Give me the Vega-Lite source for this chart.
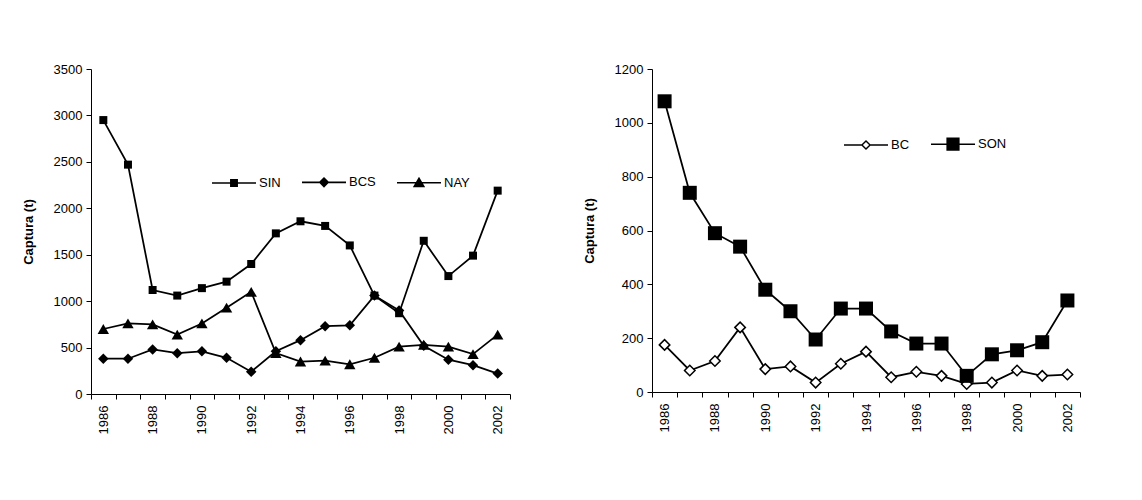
{
  "$schema": "https://vega.github.io/schema/vega-lite/v6.json",
  "background": "white",
  "padding": {"left": 22, "top": 63, "right": 0, "bottom": 0},
  "autosize": {"type": "pad"},
  "spacing": 72,
  "resolve": {"scale": {"shape": "independent", "x": "independent", "y": "independent"}, "legend": {"shape": "independent"}},
  "config": {
    "view": {"stroke": null},
    "font": "Liberation Sans",
    "axis": {
      "domainColor": "black", "tickColor": "black", "labelColor": "black", "titleColor": "black",
      "labelFont": "Liberation Sans", "titleFont": "Liberation Sans",
      "labelFontSize": 13, "titleFontSize": 13, "titleFontWeight": "bold",
      "grid": false, "tickSize": 5, "domainWidth": 1, "tickWidth": 1
    },
    "legend": {
      "labelFont": "Liberation Sans", "labelFontSize": 13, "labelColor": "black",
      "symbolSize": 1936, "symbolFillColor": "black",
      "columnPadding": 18, "labelOffset": 2
    }
  },
  "datasets": {
    "left": [
      {"year": 1986, "serie": "SIN", "captura": 2950},
      {"year": 1987, "serie": "SIN", "captura": 2470},
      {"year": 1988, "serie": "SIN", "captura": 1120},
      {"year": 1989, "serie": "SIN", "captura": 1060},
      {"year": 1990, "serie": "SIN", "captura": 1140},
      {"year": 1991, "serie": "SIN", "captura": 1210},
      {"year": 1992, "serie": "SIN", "captura": 1400},
      {"year": 1993, "serie": "SIN", "captura": 1730},
      {"year": 1994, "serie": "SIN", "captura": 1860},
      {"year": 1995, "serie": "SIN", "captura": 1810},
      {"year": 1996, "serie": "SIN", "captura": 1600},
      {"year": 1997, "serie": "SIN", "captura": 1060},
      {"year": 1998, "serie": "SIN", "captura": 870},
      {"year": 1999, "serie": "SIN", "captura": 1650},
      {"year": 2000, "serie": "SIN", "captura": 1270},
      {"year": 2001, "serie": "SIN", "captura": 1490},
      {"year": 2002, "serie": "SIN", "captura": 2190},
      {"year": 1986, "serie": "BCS", "captura": 380},
      {"year": 1987, "serie": "BCS", "captura": 380},
      {"year": 1988, "serie": "BCS", "captura": 480},
      {"year": 1989, "serie": "BCS", "captura": 440},
      {"year": 1990, "serie": "BCS", "captura": 460},
      {"year": 1991, "serie": "BCS", "captura": 390},
      {"year": 1992, "serie": "BCS", "captura": 240},
      {"year": 1993, "serie": "BCS", "captura": 460},
      {"year": 1994, "serie": "BCS", "captura": 580},
      {"year": 1995, "serie": "BCS", "captura": 730},
      {"year": 1996, "serie": "BCS", "captura": 740},
      {"year": 1997, "serie": "BCS", "captura": 1060},
      {"year": 1998, "serie": "BCS", "captura": 900},
      {"year": 1999, "serie": "BCS", "captura": 520},
      {"year": 2000, "serie": "BCS", "captura": 370},
      {"year": 2001, "serie": "BCS", "captura": 310},
      {"year": 2002, "serie": "BCS", "captura": 220},
      {"year": 1986, "serie": "NAY", "captura": 700},
      {"year": 1987, "serie": "NAY", "captura": 760},
      {"year": 1988, "serie": "NAY", "captura": 750},
      {"year": 1989, "serie": "NAY", "captura": 640},
      {"year": 1990, "serie": "NAY", "captura": 760},
      {"year": 1991, "serie": "NAY", "captura": 930},
      {"year": 1992, "serie": "NAY", "captura": 1100},
      {"year": 1993, "serie": "NAY", "captura": 440},
      {"year": 1994, "serie": "NAY", "captura": 350},
      {"year": 1995, "serie": "NAY", "captura": 360},
      {"year": 1996, "serie": "NAY", "captura": 320},
      {"year": 1997, "serie": "NAY", "captura": 390},
      {"year": 1998, "serie": "NAY", "captura": 510},
      {"year": 1999, "serie": "NAY", "captura": 530},
      {"year": 2000, "serie": "NAY", "captura": 510},
      {"year": 2001, "serie": "NAY", "captura": 430},
      {"year": 2002, "serie": "NAY", "captura": 640}
    ],
    "right": [
      {"year": 1986, "serie": "BC", "captura": 175},
      {"year": 1987, "serie": "BC", "captura": 80},
      {"year": 1988, "serie": "BC", "captura": 115},
      {"year": 1989, "serie": "BC", "captura": 240},
      {"year": 1990, "serie": "BC", "captura": 85},
      {"year": 1991, "serie": "BC", "captura": 95},
      {"year": 1992, "serie": "BC", "captura": 35},
      {"year": 1993, "serie": "BC", "captura": 105},
      {"year": 1994, "serie": "BC", "captura": 150},
      {"year": 1995, "serie": "BC", "captura": 55},
      {"year": 1996, "serie": "BC", "captura": 75},
      {"year": 1997, "serie": "BC", "captura": 60},
      {"year": 1998, "serie": "BC", "captura": 30},
      {"year": 1999, "serie": "BC", "captura": 35},
      {"year": 2000, "serie": "BC", "captura": 80},
      {"year": 2001, "serie": "BC", "captura": 60},
      {"year": 2002, "serie": "BC", "captura": 65},
      {"year": 1986, "serie": "SON", "captura": 1080},
      {"year": 1987, "serie": "SON", "captura": 740},
      {"year": 1988, "serie": "SON", "captura": 590},
      {"year": 1989, "serie": "SON", "captura": 540},
      {"year": 1990, "serie": "SON", "captura": 380},
      {"year": 1991, "serie": "SON", "captura": 300},
      {"year": 1992, "serie": "SON", "captura": 195},
      {"year": 1993, "serie": "SON", "captura": 310},
      {"year": 1994, "serie": "SON", "captura": 310},
      {"year": 1995, "serie": "SON", "captura": 225},
      {"year": 1996, "serie": "SON", "captura": 180},
      {"year": 1997, "serie": "SON", "captura": 180},
      {"year": 1998, "serie": "SON", "captura": 60},
      {"year": 1999, "serie": "SON", "captura": 140},
      {"year": 2000, "serie": "SON", "captura": 155},
      {"year": 2001, "serie": "SON", "captura": 185},
      {"year": 2002, "serie": "SON", "captura": 340}
    ]
  },
  "hconcat": [
    {
      "width": 419,
      "height": 325,
      "data": {"name": "left"},
      "encoding": {
        "x": {"field": "year", "type": "ordinal", "scale": {"type": "band", "paddingInner": 0, "paddingOuter": 0},
          "axis": {"title": null, "labelAngle": 270, "tickBand": "extent", "labelPadding": 6,
            "labelExpr": "toNumber(datum.value) % 2 == 0 ? datum.label : ''"}},
        "y": {"field": "captura", "type": "quantitative", "scale": {"domain": [0, 3500], "nice": false},
          "axis": {"title": "Captura (t)", "format": "d", "values": [0, 500, 1000, 1500, 2000, 2500, 3000, 3500], "labelPadding": 4, "titlePadding": 18}}
      },
      "layer": [
        {"mark": {"type": "line", "color": "black", "strokeWidth": 1.75},
          "encoding": {"detail": {"field": "serie"}}},
        {"transform": [{"filter": "datum.serie == 'SIN'"}],
          "mark": {"type": "point", "shape": "square", "size": 64, "filled": true, "color": "black", "opacity": 1}},
        {"transform": [{"filter": "datum.serie == 'BCS'"}],
          "mark": {"type": "point", "shape": "diamond", "size": 110, "filled": true, "color": "black", "opacity": 1}},
        {"transform": [{"filter": "datum.serie == 'NAY'"}],
          "mark": {"type": "point", "shape": "triangle-up", "size": 130, "filled": true, "color": "black", "opacity": 1}},
        {"transform": [{"filter": "datum.captura < 0"}],
          "mark": {"type": "point", "filled": true, "color": "black", "opacity": 1},
          "encoding": {
            "shape": {"field": "serie", "type": "nominal",
              "scale": {"domain": ["SIN", "BCS", "NAY"], "range": [
                "M-1,-0.035H1V0.035H-1ZM-0.18,-0.18H0.18V0.18H-0.18Z",
                "M-1,-0.035H1V0.035H-1ZM0,-0.24L0.24,0L0,0.24L-0.24,0Z",
                "M-1,-0.035H1V0.035H-1ZM0,-0.27L0.28,0.2H-0.28Z"]},
              "legend": {"title": null, "orient": "none", "direction": "horizontal", "legendX": 120, "legendY": 90, "symbolOpacity": 1, "symbolFillColor": "black"}}
          }}
      ]
    },
    {
      "width": 428,
      "height": 323,
      "data": {"name": "right"},
      "encoding": {
        "x": {"field": "year", "type": "ordinal", "scale": {"type": "band", "paddingInner": 0, "paddingOuter": 0},
          "axis": {"title": null, "labelAngle": 270, "tickBand": "extent", "labelPadding": 6,
            "labelExpr": "toNumber(datum.value) % 2 == 0 ? datum.label : ''"}},
        "y": {"field": "captura", "type": "quantitative", "scale": {"domain": [0, 1200], "nice": false},
          "axis": {"title": "Captura (t)", "format": "d", "values": [0, 200, 400, 600, 800, 1000, 1200], "labelPadding": 4, "titlePadding": 18}}
      },
      "layer": [
        {"mark": {"type": "line", "color": "black", "strokeWidth": 1.75},
          "encoding": {"detail": {"field": "serie"}}},
        {"transform": [{"filter": "datum.serie == 'BC'"}],
          "mark": {"type": "point", "shape": "diamond", "size": 110, "filled": true, "fill": "white", "stroke": "black", "strokeWidth": 1.5, "opacity": 1}},
        {"transform": [{"filter": "datum.serie == 'SON'"}],
          "mark": {"type": "point", "shape": "square", "size": 196, "filled": true, "color": "black", "opacity": 1}},
        {"transform": [{"filter": "datum.captura < 0"}],
          "mark": {"type": "point", "filled": true, "color": "black", "opacity": 1},
          "encoding": {
            "shape": {"field": "serie", "type": "nominal",
              "scale": {"domain": ["BC", "SON"], "range": [
                "M-1,-0.035H-0.2V0.035H-1ZM0.2,-0.035H1V0.035H0.2ZM0,-0.23L0.23,0L0,0.23L-0.23,0ZM0,-0.14L-0.14,0L0,0.14L0.14,0Z",
                "M-1,-0.035H1V0.035H-1ZM-0.3,-0.3H0.3V0.3H-0.3Z"]},
              "legend": {"title": null, "orient": "none", "direction": "horizontal", "legendX": 191, "legendY": 52, "symbolOpacity": 1, "symbolFillColor": "black"}}
          }}
      ]
    }
  ]
}
